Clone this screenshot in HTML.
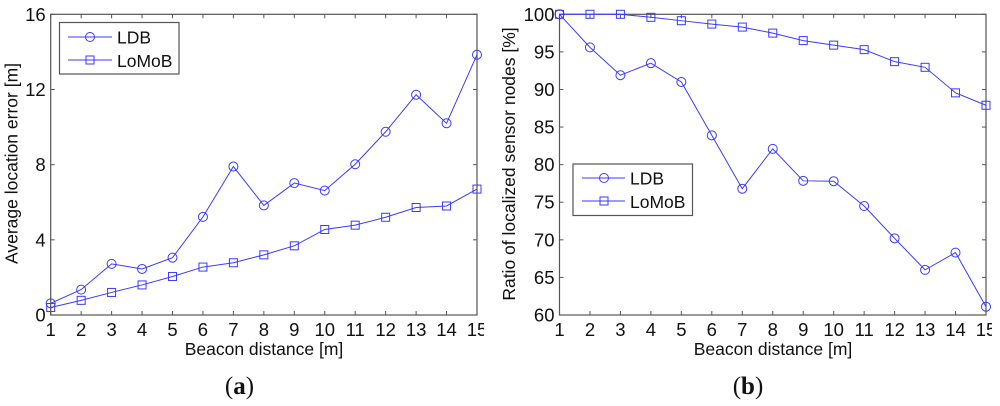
<!DOCTYPE html>
<html lang="en">
<head>
<meta charset="utf-8">
<title>LDB vs LoMoB</title>
<style>
html,body{margin:0;padding:0;background:#fff;width:1000px;height:406px;overflow:hidden}
svg{display:block;font-family:"Liberation Sans",sans-serif;fill:#111}
#figure{filter:blur(0.3px)}
.tk{font-size:18.5px}
.lb{font-size:17.5px}
.lg{font-size:17.5px}
.cap{font-family:"Liberation Serif",serif;font-size:25px}
</style>
</head>
<body>
<svg id="figure" width="1000" height="406" viewBox="0 0 1000 406" xmlns="http://www.w3.org/2000/svg">
  <defs>
    <clipPath id="clip-a"><rect x="0" y="0" width="484" height="406"/></clipPath>
    <clipPath id="clip-b"><rect x="500" y="0" width="492" height="406"/></clipPath>
  </defs>
  <g id="chart-a" clip-path="url(#clip-a)"></g>
  <g id="chart-b" clip-path="url(#clip-b)"></g>

  <text class="lb" transform="translate(17.5 163.5) rotate(-90)" text-anchor="middle">Average location error [m]</text>
  <text class="lb" transform="translate(515 164) rotate(-90)" text-anchor="middle">Ratio of localized sensor nodes [%]</text>
  <text class="lb" x="264" y="355" text-anchor="middle">Beacon distance [m]</text>
  <text class="lb" x="773" y="355" text-anchor="middle">Beacon distance [m]</text>
  <text class="cap" x="239.5" y="394" text-anchor="middle">(<tspan font-weight="bold">a</tspan>)</text>
  <text class="cap" x="748" y="394" text-anchor="middle">(<tspan font-weight="bold">b</tspan>)</text>

  <g>
    <rect x="59.5" y="22.5" width="119.5" height="51.5" fill="#fff" stroke="#555" stroke-width="1.2"/>
    <g>
      <line x1="68" y1="37" x2="112" y2="37" stroke="#3a3aff" stroke-width="1"/>
      <circle cx="90" cy="37" r="4.5" fill="none" stroke="#3a3aff" stroke-width="1"/>
      <text class="lg" x="117" y="43.5">LDB</text>
    </g>
    <g>
      <line x1="68" y1="60" x2="112" y2="60" stroke="#3a3aff" stroke-width="1"/>
      <rect x="86" y="56" width="8" height="8" fill="none" stroke="#3a3aff" stroke-width="1"/>
      <text class="lg" x="117" y="67">LoMoB</text>
    </g>
  </g>
  <g>
    <rect x="573" y="164" width="119.5" height="51.5" fill="#fff" stroke="#555" stroke-width="1.2"/>
    <g>
      <line x1="582" y1="178" x2="625" y2="178" stroke="#3a3aff" stroke-width="1"/>
      <circle cx="604" cy="178" r="4.5" fill="none" stroke="#3a3aff" stroke-width="1"/>
      <text class="lg" x="630" y="184.5">LDB</text>
    </g>
    <g>
      <line x1="582" y1="201" x2="625" y2="201" stroke="#3a3aff" stroke-width="1"/>
      <rect x="600" y="197" width="8" height="8" fill="none" stroke="#3a3aff" stroke-width="1"/>
      <text class="lg" x="630" y="208">LoMoB</text>
    </g>
  </g>
</svg>
<script>
const categories = [1, 2, 3, 4, 5, 6, 7, 8, 9, 10, 11, 12, 13, 14, 15];
const errorTicks = [0, 4, 8, 12, 16];
const ratioTicks = [60, 65, 70, 75, 80, 85, 90, 95, 100];
const errorLDB = [0.62, 1.35, 2.72, 2.45, 3.05, 5.22, 7.9, 5.83, 7.02, 6.62, 8.02, 9.75, 11.72, 10.2, 13.85];
const errorLoMoB = [0.4, 0.78, 1.2, 1.6, 2.05, 2.55, 2.78, 3.2, 3.68, 4.55, 4.78, 5.2, 5.72, 5.8, 6.7];
const ratioLDB = [100, 95.6, 91.9, 93.5, 91, 83.9, 76.8, 82.1, 77.85, 77.8, 74.5, 70.2, 66, 68.3, 61.1];
const ratioLoMoB = [100, 100, 100, 99.6, 99.15, 98.7, 98.3, 97.5, 96.5, 95.9, 95.3, 93.7, 92.95, 89.55, 87.9];

const NS = 'http://www.w3.org/2000/svg';
const BLUE = '#3a3aff';
const AXIS = '#555';

function make(parent, tag, attrs) {
  const el = document.createElementNS(NS, tag);
  for (const k in attrs) el.setAttribute(k, attrs[k]);
  parent.appendChild(el);
  return el;
}

function drawChart(root, box, yTicks, ldb, lomob) {
  const xMin = categories[0], xMax = categories[categories.length - 1];
  const yMin = yTicks[0], yMax = yTicks[yTicks.length - 1];
  const sx = v => box.left + (v - xMin) / (xMax - xMin) * (box.right - box.left);
  const sy = v => box.bottom - (v - yMin) / (yMax - yMin) * (box.bottom - box.top);

  const frame = make(root, 'rect', {x: box.left, y: box.top, width: box.right - box.left, height: box.bottom - box.top, fill: 'none', stroke: AXIS, 'stroke-width': 1.2});
  
  

  categories.forEach(c => {
    const x = sx(c);
    const t1 = make(root, 'line', {x1: x, x2: x, y1: box.bottom, y2: box.bottom - 4, stroke: AXIS, 'stroke-width': 1});
    
    
    const t2 = make(root, 'line', {x1: x, x2: x, y1: box.top, y2: box.top + 4, stroke: AXIS, 'stroke-width': 1});
    
    
    const label = make(root, 'text', {x: x, y: box.bottom + 21, 'text-anchor': 'middle', class: 'tk'});
    
    
    label.textContent = c;
  });

  yTicks.forEach(v => {
    const y = sy(v);
    const t1 = make(root, 'line', {x1: box.left, x2: box.left + 4, y1: y, y2: y, stroke: AXIS, 'stroke-width': 1});
    
    
    const t2 = make(root, 'line', {x1: box.right, x2: box.right - 4, y1: y, y2: y, stroke: AXIS, 'stroke-width': 1});
    
    
    const label = make(root, 'text', {x: box.left - 5, y: y + 6.5, 'text-anchor': 'end', class: 'tk'});
    
    
    label.textContent = v;
  });

  const lineA = make(root, 'polyline', {points: lomob.map((v, i) => sx(categories[i]) + ',' + sy(v)).join(' '), fill: 'none', stroke: BLUE, 'stroke-width': 1});
  
  
  lomob.forEach((v, i) => {
    const m = make(root, 'rect', {x: sx(categories[i]) - 4, y: sy(v) - 4, width: 8, height: 8, fill: 'none', stroke: BLUE, 'stroke-width': 1});
    
    
  });

  const lineB = make(root, 'polyline', {points: ldb.map((v, i) => sx(categories[i]) + ',' + sy(v)).join(' '), fill: 'none', stroke: BLUE, 'stroke-width': 1});
  
  
  ldb.forEach((v, i) => {
    const m = make(root, 'circle', {cx: sx(categories[i]), cy: sy(v), r: 4.5, fill: 'none', stroke: BLUE, 'stroke-width': 1});
    
    
  });
}

drawChart(document.getElementById('chart-a'), {left: 50.7, right: 477, top: 14.3, bottom: 315}, errorTicks, errorLDB, errorLoMoB);
drawChart(document.getElementById('chart-b'), {left: 559.5, right: 986, top: 14.3, bottom: 315}, ratioTicks, ratioLDB, ratioLoMoB);
</script>
</body>
</html>
